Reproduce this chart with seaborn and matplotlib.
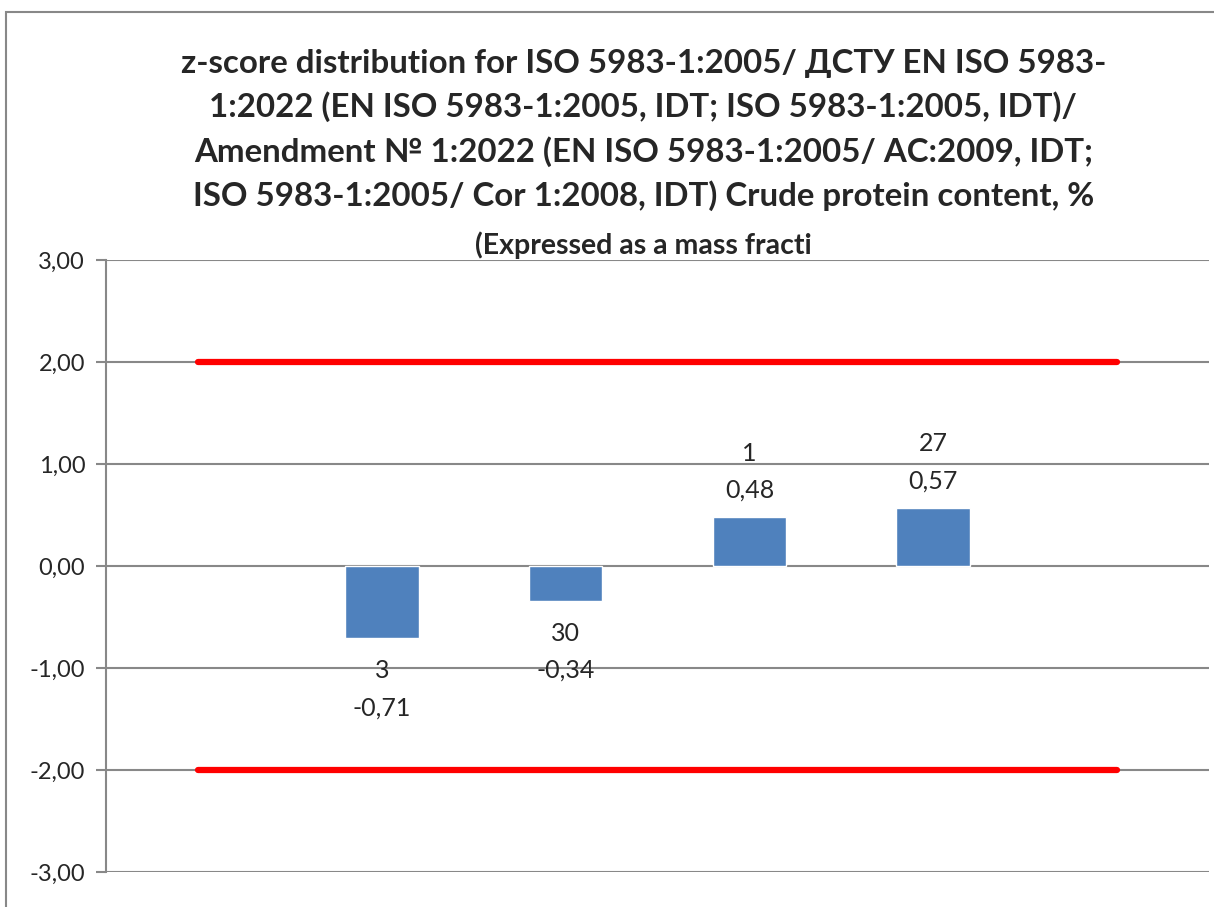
import matplotlib
matplotlib.use("Agg")
import matplotlib.pyplot as plt
import seaborn as sns
import pandas as pd
from matplotlib.patches import Rectangle

# chart data
slot_names = ["start", "3", "30", "1", "27", "end"]
lab_codes = ["3", "30", "1", "27"]
z_scores = [-0.71, -0.34, 0.48, 0.57]
upper_limit = [2, 2, 2, 2, 2, 2]
lower_limit = [-2, -2, -2, -2, -2, -2]
y_ticks = [-3, -2, -1, 0, 1, 2, 3]

title = ("z-score distribution for ISO 5983-1:2005/ ДСТУ EN ISO 5983-\n"
         "1:2022 (EN ISO 5983-1:2005, IDT; ISO 5983-1:2005, IDT)/\n"
         "Amendment № 1:2022 (EN ISO 5983-1:2005/ AC:2009, IDT;\n"
         "ISO 5983-1:2005/ Cor 1:2008, IDT) Crude protein content, %")
subtitle = "(Expressed as a mass fracti"

sns.set_theme(style="white")
plt.rcParams['font.family'] = ['Lato', 'Open Sans', 'DejaVu Sans']

grid_color = "#888888"

fig = plt.figure(figsize=(12.14, 9.07), dpi=100)
ax = fig.add_axes([0.0873, 0.0386, 0.9086, 0.6747])

df = pd.DataFrame({"code": lab_codes, "z": z_scores})
sns.barplot(data=df, x="code", y="z", order=slot_names, color="#4F81BD",
            width=0.4, errorbar=None, saturation=1, ax=ax, zorder=2)

positions = list(range(len(slot_names)))
ax.plot(positions, upper_limit, color="#FF0000", lw=4.5, solid_capstyle="round", zorder=3)
ax.plot(positions, lower_limit, color="#FF0000", lw=4.5, solid_capstyle="round", zorder=3)

# data labels: code on first line, z-score below
for bar, code, z in zip(ax.containers[0], lab_codes, z_scores):
    text = f"{code}\n{z:.2f}".replace(".", ",")
    xc = bar.get_x() + bar.get_width() / 2
    if z < 0:
        ax.annotate(text, (xc, z), xytext=(0, -15), textcoords="offset points",
                    ha="center", va="top", fontsize=18, linespacing=1.75)
    else:
        ax.annotate(text, (xc, z), xytext=(0, 11), textcoords="offset points",
                    ha="center", va="bottom", fontsize=18, linespacing=1.75)

ax.set_xlim(-0.5, len(slot_names) - 0.5)
ax.set_ylim(-3, 3)
ax.set_yticks(y_ticks)
ax.set_yticklabels([f"{v:.2f}".replace(".", ",") for v in y_ticks], fontsize=17)
ax.set_xticks([])
ax.set_xlabel("")
ax.set_ylabel("")
ax.set_axisbelow(True)
ax.yaxis.grid(True, color=grid_color, lw=1.5)
ax.tick_params(axis="y", left=True, length=7, width=1.5, color=grid_color, pad=8)
for side in ["top", "right", "bottom"]:
    ax.spines[side].set_visible(False)
ax.spines["left"].set_color(grid_color)
ax.spines["left"].set_linewidth(1.5)

fig.text(0.53, 1 - 130 / 907, title, ha="center", va="center", fontsize=23.8,
         fontweight="bold", linespacing=1.54)
fig.text(0.53, 1 - 245 / 907, subtitle, ha="center", va="center", fontsize=20.5,
         fontweight="bold")

fig.patches.append(Rectangle((6 / 1214, -0.1), 1.2, 1.1 - 12 / 907, transform=fig.transFigure,
                             fill=False, edgecolor=grid_color, lw=1.5))

fig.savefig("out.png", dpi=100)
